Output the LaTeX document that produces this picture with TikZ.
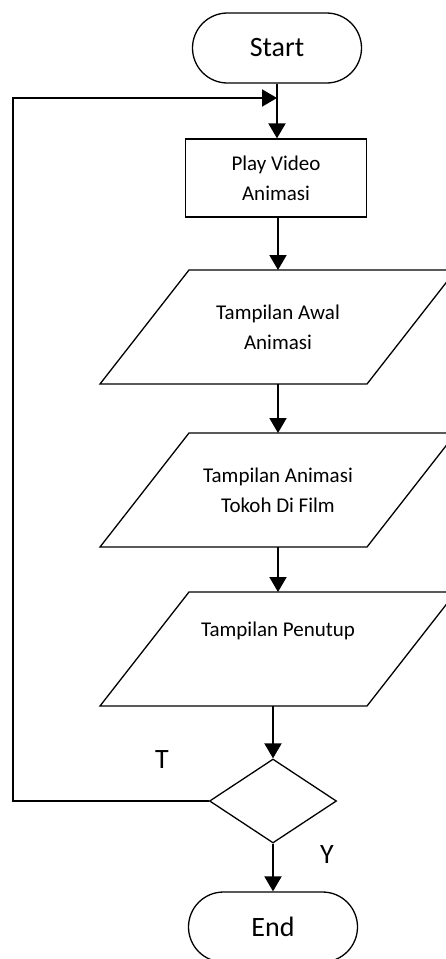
\documentclass[tikz,border=0pt]{standalone}
\usepackage{fontspec}
\setmainfont{Carlito}
\usetikzlibrary{shapes.geometric,arrows.meta,positioning}

\tikzset{
  terminal/.style={draw, line width=1.3pt, rounded corners=35pt, minimum width=169pt, minimum height=70pt, font=\fontsize{28}{30}\selectfont},
  proses/.style={draw, line width=1.3pt, minimum width=181pt, minimum height=78pt, align=center, font=\fontsize{21}{30}\selectfont},
  data/.style={minimum width=356pt, minimum height=114pt, inner sep=0pt, outer sep=0pt, align=center, font=\fontsize{21}{30}\selectfont},
  keputusan/.style={diamond, draw, line width=1.3pt, minimum width=127pt, minimum height=84pt, inner sep=0pt},
  bord/.style={line width=1.3pt, line join=miter},
  fleche/.style={-{Triangle[width=17pt,length=15pt]}, line width=2pt},
  huruf/.style={font=\fontsize{28}{30}\selectfont}
}

\begin{document}
\begin{tikzpicture}[x=1pt, y=-1pt]

\useasboundingbox (0,0) rectangle (446,959);
\clip (0,0) rectangle (446,959);

% blok
\node[terminal] (start) at (277,48) {Start};
\node[proses] (play) at (276,178) {Play Video\\Animasi};
\node[data] (p1) at (278,327) {Tampilan Awal\\Animasi};
\node[data] (p2) at (278,490) {Tampilan Animasi\\Tokoh Di Film};
\node[data] (p3) at (278,649) {Tampilan Penutup\\ \strut};
\node[keputusan] (dec) at (273,801) {};
\node[terminal] (end) at (273,927) {End};

% jajaran genjang
\foreach \p in {p1,p2,p3}
  \draw[bord] (\p.south west) -- ++(267,0) -- (\p.north east) -- ++(-267,0) -- cycle;

% panah
\coordinate (jonction) at (277,98);
\coordinate (retour) at (13,98);
\draw[fleche] (start.south) -- (start.south |- play.north);
\draw[fleche] (play.south -| p1.north) -- (p1.north);
\draw[fleche] (p1.south) -- (p2.north);
\draw[fleche] (p2.south) -- (p3.north);
\draw[fleche] (p3.south -| dec.north) -- (dec.north);
\draw[fleche] (dec.south) -- (end.north);

% ulang
\draw[fleche, line join=miter] (dec.west) -| (retour) -- (jonction);

% teks
\node[huruf] (t) at (162,760) {T};
\node[huruf] (y) at (327,855) {Y};

\end{tikzpicture}
\end{document}
